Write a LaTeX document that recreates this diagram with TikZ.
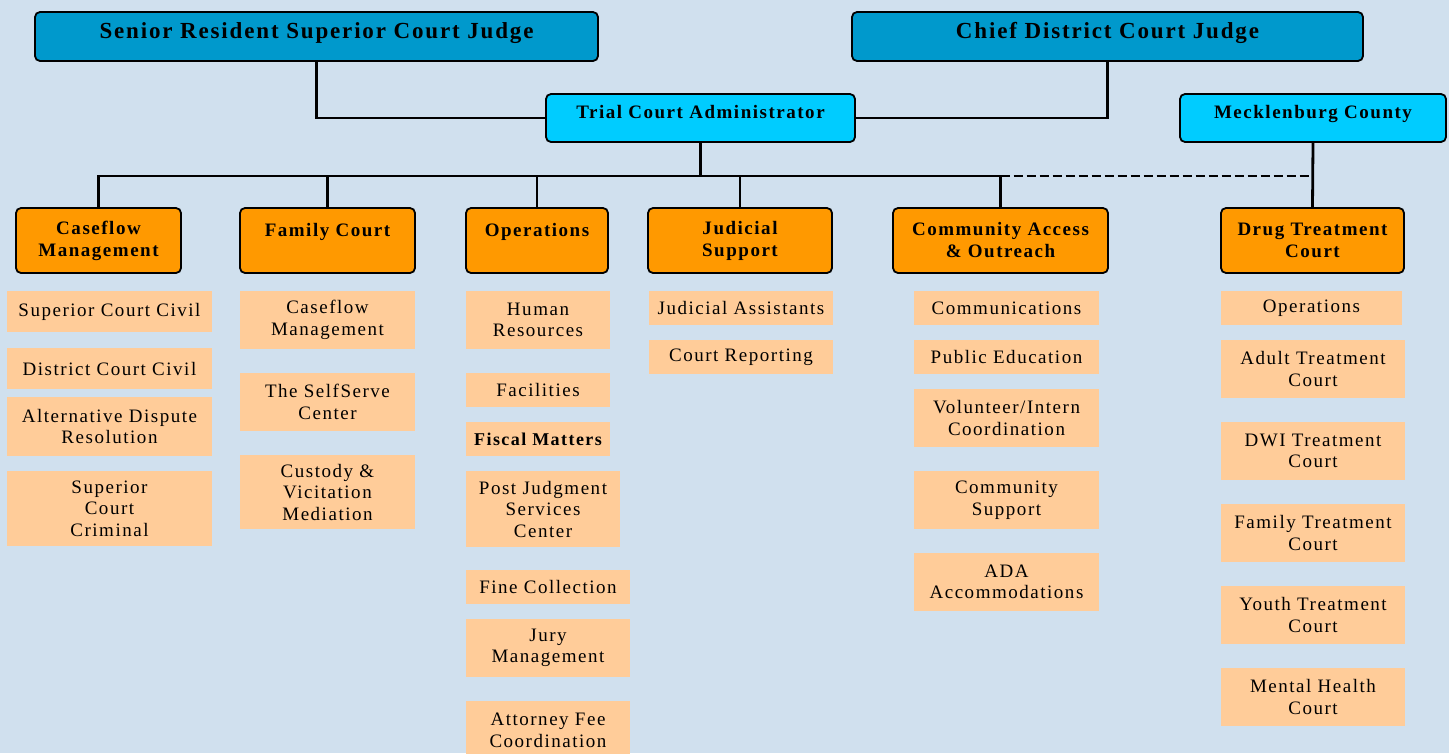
\documentclass[tikz,border=0pt]{standalone}
\usepackage{fontspec}
\setmainfont{Liberation Serif}[LetterSpace=8]
\definecolor{bg}{RGB}{208,224,238}
\definecolor{topblue}{RGB}{0,153,204}
\definecolor{midblue}{RGB}{0,204,255}
\definecolor{orng}{RGB}{255,153,0}
\definecolor{peach}{RGB}{255,204,153}
\tikzset{
  boxbase/.style={rectangle, inner sep=0pt, align=center, text=black},
  topbox/.style={boxbase, draw=black, line width=1.8pt, rounded corners=5pt, fill=topblue, text height=16pt, text depth=12pt, font=\bfseries\fontsize{23}{27}\selectfont},
  midbox/.style={boxbase, draw=black, line width=1.8pt, rounded corners=5pt, fill=midblue, text height=13pt, text depth=12pt, font=\bfseries\fontsize{19}{22}\selectfont},
  obox/.style={boxbase, draw=black, line width=1.8pt, rounded corners=5pt, fill=orng, font=\bfseries\fontsize{19}{22}\selectfont},
  lbox/.style={boxbase, fill=peach, font=\fontsize{19}{21.5}\selectfont},
  conn/.style={draw=black, line width=2.8pt},
  dconn/.style={draw=black, line width=2.8pt, dash pattern=on 9pt off 4pt}
}
\begin{document}
\begin{tikzpicture}[x=1pt,y=-1pt]
\fill[bg] (0,0) rectangle (1449,753);
\useasboundingbox (0,0) rectangle (1449,753);
% top level
\node[topbox, minimum width=563, minimum height=49] (srj) at (316.5,36.5) {Senior Resident Superior Court Judge};
\node[topbox, minimum width=511, minimum height=49] (cdj) at (1107.5,36.5) {Chief District Court Judge};
\node[midbox, minimum width=309, minimum height=48] (tca) at (700.5,118) {Trial Court Administrator};
\node[midbox, minimum width=266, minimum height=48] (mck) at (1313,118) {Mecklenburg County};
% divisions
\node[obox, minimum width=165, minimum height=65] (cfm) at (98.5,240.5) {Caseflow\\Management};
\node[obox, minimum width=175, minimum height=65] (fam) at (327.5,240.5) {Family Court\\\mbox{}};
\node[obox, minimum width=142, minimum height=65] (ops) at (537,240.5) {Operations\\\mbox{}};
\node[obox, minimum width=184, minimum height=65] (jud) at (740,240.5) {Judicial\\Support};
\node[obox, minimum width=215, minimum height=65] (cao) at (1000.5,240.5) {Community Access\\\& Outreach};
\node[obox, minimum width=183, minimum height=65] (dtc) at (1312.5,240.5) {Drug Treatment\\Court};
% connectors
\coordinate (bus) at (700,176);
\draw[conn] (srj.south) |- (tca.west);
\draw[conn] (cdj.south) |- (tca.east);
\draw[conn] (tca.south) -- (tca.south |- bus);
\draw[conn] (cfm.north) |- (cao.north |- bus) -- (cao.north);
\draw[conn] (fam.north) -- (fam.north |- bus);
\draw[conn] (ops.north) -- (ops.north |- bus);
\draw[conn] (jud.north) -- (jud.north |- bus);
\draw[dconn] (cao.north |- bus) -- (dtc.north |- bus);
\draw[conn] (mck.south) -- (dtc.north);
% column 1
\node[lbox, minimum width=205, minimum height=41] (c1a) at (109.5,311.5) {Superior Court Civil};
\node[lbox, minimum width=205, minimum height=41] (c1b) at (109.5,368.5) {District Court Civil};
\node[lbox, minimum width=205, minimum height=59] (c1c) at (109.5,426.5) {Alternative Dispute\\Resolution};
\node[lbox, minimum width=205, minimum height=75] (c1d) at (109.5,508.5) {Superior\\Court\\Criminal};
% column 2
\node[lbox, minimum width=175, minimum height=58] (c2a) at (327.5,320) {Caseflow\\Management};
\node[lbox, minimum width=175, minimum height=58] (c2b) at (327.5,402) {The SelfServe\\Center};
\node[lbox, minimum width=175, minimum height=74] (c2c) at (327.5,492) {Custody \&\\Vicitation\\Mediation};
% column 3
\node[lbox, minimum width=144, minimum height=58] (c3a) at (538,320) {Human\\Resources};
\node[lbox, minimum width=144, minimum height=34] (c3b) at (538,390) {Facilities};
\node[lbox, minimum width=144, minimum height=34, font=\bfseries\fontsize{18}{21.5}\selectfont] (c3c) at (538,439) {Fiscal Matters};
\node[lbox, minimum width=154, minimum height=76] (c3d) at (543,509) {Post Judgment\\Services\\Center};
\node[lbox, minimum width=164, minimum height=34] (c3e) at (548,587) {Fine Collection};
\node[lbox, minimum width=164, minimum height=58] (c3f) at (548,648) {Jury\\Management};
\node[lbox, minimum width=164, minimum height=59] (c3g) at (548,730.5) {Attorney Fee\\Coordination};
% column 4
\node[lbox, minimum width=184, minimum height=34] (c4a) at (741,308) {Judicial Assistants};
\node[lbox, minimum width=184, minimum height=34] (c4b) at (741,357) {Court Reporting};
% column 5
\node[lbox, minimum width=185, minimum height=34] (c5a) at (1006.5,308) {Communications};
\node[lbox, minimum width=185, minimum height=34] (c5b) at (1006.5,357) {Public Education};
\node[lbox, minimum width=185, minimum height=58] (c5c) at (1006.5,418) {Volunteer/Intern\\Coordination};
\node[lbox, minimum width=185, minimum height=58] (c5d) at (1006.5,500) {Community\\Support};
\node[lbox, minimum width=185, minimum height=58] (c5e) at (1006.5,582) {ADA\\Accommodations};
% column 6
\node[lbox, minimum width=181, minimum height=34] (c6a) at (1311.5,308) {Operations};
\node[lbox, minimum width=184, minimum height=58] (c6b) at (1313,369) {Adult Treatment\\Court};
\node[lbox, minimum width=184, minimum height=58] (c6c) at (1313,451) {DWI Treatment\\Court};
\node[lbox, minimum width=184, minimum height=58] (c6d) at (1313,533) {Family Treatment\\Court};
\node[lbox, minimum width=184, minimum height=58] (c6e) at (1313,615) {Youth Treatment\\Court};
\node[lbox, minimum width=184, minimum height=58] (c6f) at (1313,697) {Mental Health\\Court};
\end{tikzpicture}
\end{document}
